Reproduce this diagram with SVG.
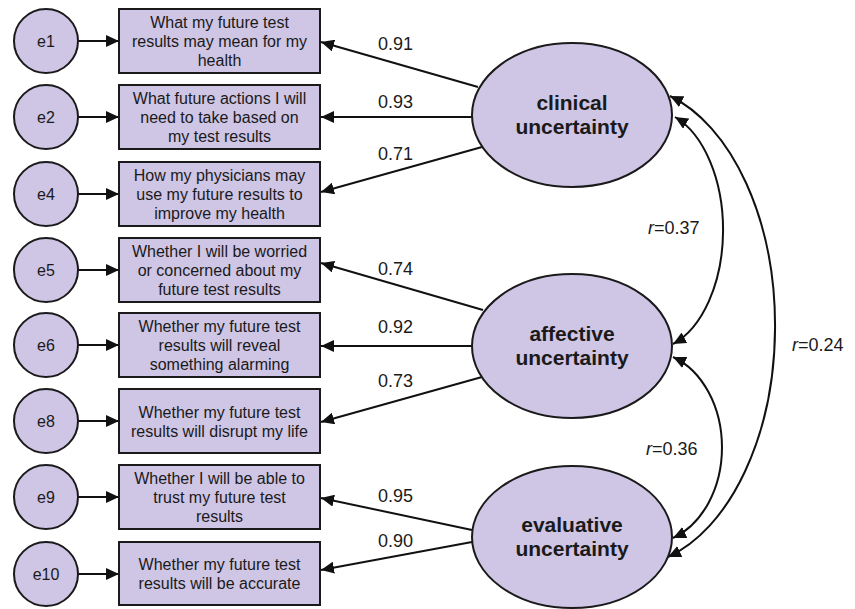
<svg xmlns="http://www.w3.org/2000/svg" width="855" height="609" viewBox="0 0 855 609">
<defs>
<style>
.bg{fill:#ffffff}
.err{fill:#cfc5e5;stroke:#1a1a1a;stroke-width:2}
.box{fill:#cfc5e5;stroke:#1a1a1a;stroke-width:2}
.lat{fill:#cfc5e5;stroke:#1a1a1a;stroke-width:2}
.t{font-family:"Liberation Sans",Arial,sans-serif;font-size:16px;fill:#1a1a1a;text-anchor:middle}
.lt{font-family:"Liberation Sans",Arial,sans-serif;font-size:21px;font-weight:bold;fill:#1a1a1a;text-anchor:middle}
.num{font-family:"Liberation Sans",Arial,sans-serif;font-size:18px;fill:#1a1a1a}
.ln{stroke:#111;stroke-width:2;fill:none;marker-end:url(#ah)}
.cv{stroke:#111;stroke-width:2;fill:none;marker-start:url(#ah);marker-end:url(#ah)}
</style>
<marker id="ah" markerUnits="userSpaceOnUse" markerWidth="14" markerHeight="12" refX="13" refY="6" orient="auto-start-reverse" viewBox="0 0 14 12">
<path d="M0,0 L13,6 L0,12 z" fill="#111"/>
</marker>
</defs>
<rect class="bg" x="0" y="0" width="855" height="609"/>

<g id="connectors">
<line class="ln" x1="78" y1="41" x2="119" y2="41"/>
<line class="ln" x1="78" y1="117" x2="119" y2="117"/>
<line class="ln" x1="78" y1="194" x2="119" y2="194"/>
<line class="ln" x1="78" y1="270" x2="119" y2="270"/>
<line class="ln" x1="78" y1="345" x2="119" y2="345"/>
<line class="ln" x1="78" y1="421" x2="119" y2="421"/>
<line class="ln" x1="78" y1="497" x2="119" y2="497"/>
<line class="ln" x1="78" y1="574" x2="119" y2="574"/>

<line class="ln" x1="478" y1="87" x2="321" y2="42"/>
<line class="ln" x1="472" y1="117" x2="321" y2="117"/>
<line class="ln" x1="482" y1="147" x2="321" y2="192"/>
<line class="ln" x1="483" y1="310" x2="321" y2="263"/>
<line class="ln" x1="472" y1="346" x2="321" y2="346"/>
<line class="ln" x1="482" y1="377" x2="321" y2="422"/>
<line class="ln" x1="472" y1="530" x2="321" y2="498"/>
<line class="ln" x1="472" y1="542" x2="321" y2="570"/>

<path class="cv" d="M675,117 A72.6,120 0 0 1 673,344"/>
<path class="cv" d="M673,357 A73.5,96 0 0 1 673,538"/>
<path class="cv" d="M670,96 A147,240 0 0 1 668,557"/>

<text class="num" x="378" y="50">0.91</text>
<text class="num" x="378" y="108">0.93</text>
<text class="num" x="378" y="160">0.71</text>
<text class="num" x="378" y="275">0.74</text>
<text class="num" x="378" y="333">0.92</text>
<text class="num" x="378" y="387">0.73</text>
<text class="num" x="378" y="502">0.95</text>
<text class="num" x="378" y="547">0.90</text>
<text class="num" x="648" y="234"><tspan font-style="italic">r</tspan>=0.37</text>
<text class="num" x="646" y="455"><tspan font-style="italic">r</tspan>=0.36</text>
<text class="num" x="792" y="351"><tspan font-style="italic">r</tspan>=0.24</text>
</g>

<g id="e1"><circle class="err" cx="46" cy="41" r="32"/><text class="t" x="46" y="47">e1</text></g>
<g id="e2"><circle class="err" cx="46" cy="117" r="32"/><text class="t" x="46" y="123">e2</text></g>
<g id="e4"><circle class="err" cx="46" cy="194" r="32"/><text class="t" x="46" y="200">e4</text></g>
<g id="e5"><circle class="err" cx="46" cy="270" r="32"/><text class="t" x="46" y="276">e5</text></g>
<g id="e6"><circle class="err" cx="46" cy="345" r="32"/><text class="t" x="46" y="351">e6</text></g>
<g id="e8"><circle class="err" cx="46" cy="421" r="32"/><text class="t" x="46" y="427">e8</text></g>
<g id="e9"><circle class="err" cx="46" cy="497" r="32"/><text class="t" x="46" y="503">e9</text></g>
<g id="e10"><circle class="err" cx="46" cy="574" r="32"/><text class="t" x="46" y="580">e10</text></g>

<g id="item1"><rect class="box" x="119" y="9" width="201" height="64"/>
<text class="t" x="219.5" y="28">What my future test</text><text class="t" x="219.5" y="47">results may mean for my</text><text class="t" x="219.5" y="66">health</text></g>
<g id="item2"><rect class="box" x="119" y="85" width="201" height="64"/>
<text class="t" x="219.5" y="104">What future actions I will</text><text class="t" x="219.5" y="123">need to take based on</text><text class="t" x="219.5" y="142">my test results</text></g>
<g id="item4"><rect class="box" x="119" y="162" width="201" height="64"/>
<text class="t" x="219.5" y="181">How my physicians may</text><text class="t" x="219.5" y="200">use my future results to</text><text class="t" x="219.5" y="219">improve my health</text></g>
<g id="item5"><rect class="box" x="119" y="238" width="201" height="64"/>
<text class="t" x="219.5" y="257">Whether I will be worried</text><text class="t" x="219.5" y="276">or concerned about my</text><text class="t" x="219.5" y="295">future test results</text></g>
<g id="item6"><rect class="box" x="119" y="313" width="201" height="64"/>
<text class="t" x="219.5" y="332">Whether my future test</text><text class="t" x="219.5" y="351">results will reveal</text><text class="t" x="219.5" y="370">something alarming</text></g>
<g id="item8"><rect class="box" x="119" y="389" width="201" height="64"/>
<text class="t" x="219.5" y="417.5">Whether my future test</text><text class="t" x="219.5" y="436.5">results will disrupt my life</text></g>
<g id="item9"><rect class="box" x="119" y="465" width="201" height="64"/>
<text class="t" x="219.5" y="484">Whether I will be able to</text><text class="t" x="219.5" y="503">trust my future test</text><text class="t" x="219.5" y="522">results</text></g>
<g id="item10"><rect class="box" x="119" y="542" width="201" height="63"/>
<text class="t" x="219.5" y="570">Whether my future test</text><text class="t" x="219.5" y="589">results will be accurate</text></g>

<g id="clinical"><ellipse class="lat" cx="572" cy="115" rx="100" ry="72"/>
<text class="lt" x="572" y="110">clinical</text><text class="lt" x="572" y="134">uncertainty</text></g>
<g id="affective"><ellipse class="lat" cx="572" cy="346" rx="100" ry="72"/>
<text class="lt" x="572" y="341">affective</text><text class="lt" x="572" y="365">uncertainty</text></g>
<g id="evaluative"><ellipse class="lat" cx="572" cy="537" rx="100" ry="71"/>
<text class="lt" x="572" y="532">evaluative</text><text class="lt" x="572" y="556">uncertainty</text></g>
</svg>
